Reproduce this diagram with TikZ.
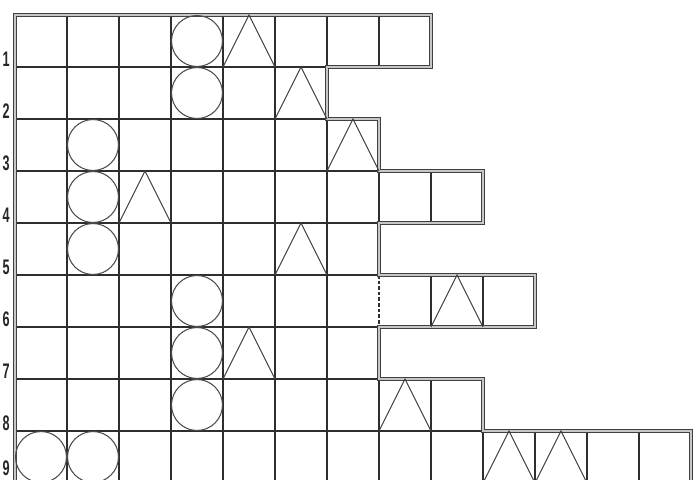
\documentclass[tikz,border=0pt]{standalone}
\usepackage{graphicx}
\usepackage{fontspec}
\newfontfamily\rowfont{Liberation Sans}
\usepackage{tikz}

\begin{document}
\begin{tikzpicture}[x=1.04cm,y=-1.04cm,
  grid/.style={line width=0.95pt,draw=black!82},
  rim/.style={line width=0.5pt,draw=black!75,double=black!22,double distance=1.2pt},
  ring/.style={line width=0.6pt,draw=black!70},
  spike/.style={line width=0.6pt,draw=black!75},
  rowno/.style={font=\fontsize{12}{12}\rowfont\bfseries,anchor=south,inner sep=0pt,text=black!85}]
  \useasboundingbox (-0.2885,-0.2885) rectangle (13.058,8.942);
  \clip (-0.2885,-0.2885) rectangle (13.058,8.942);
  % rows: row / number of cells
  \foreach \r/\w in {0/8,1/6,2/7,3/9,4/7,5/10,6/7,7/9,8/13}{
    \draw[grid] (0,\r) -- (\w,\r) (0,\r+1) -- (\w,\r+1);
    \foreach \c in {0,...,\w}{
      \ifnum\r\c=57 \else \draw[grid] (\c,\r) -- (\c,\r+1); \fi
    }
  }
  \draw[grid,dash pattern=on 2pt off 1.2pt] (7,5) -- (7,6);
  % stepped outline
  \draw[rim] (0,9.5) -- (0,0) -- (8,0) |- (6,1) |- (7,2) |- (9,3) |- (7,4)
    |- (10,5) |- (7,6) |- (9,7) |- (13,8) -- (13,9.5);
  % circles
  \foreach \c/\r in {3/0,3/1,1/2,1/3,1/4,3/5,3/6,3/7,0/8,1/8}
    \draw[ring] (\c+0.5,\r+0.5) circle[radius=0.49];
  % triangles
  \foreach \c/\r in {4/0,5/1,6/2,2/3,5/4,8/5,4/6,7/7,9/8,10/8}
    \draw[spike] (\c,\r+1) -- (\c+0.5,\r) -- (\c+1,\r+1);
  % row numbers
  \foreach \r in {1,...,9}
    \node[rowno] (row\r) at (-0.17,{min(\r,8.87)}) {\scalebox{0.6}[1]{\r}};
\end{tikzpicture}
\end{document}
